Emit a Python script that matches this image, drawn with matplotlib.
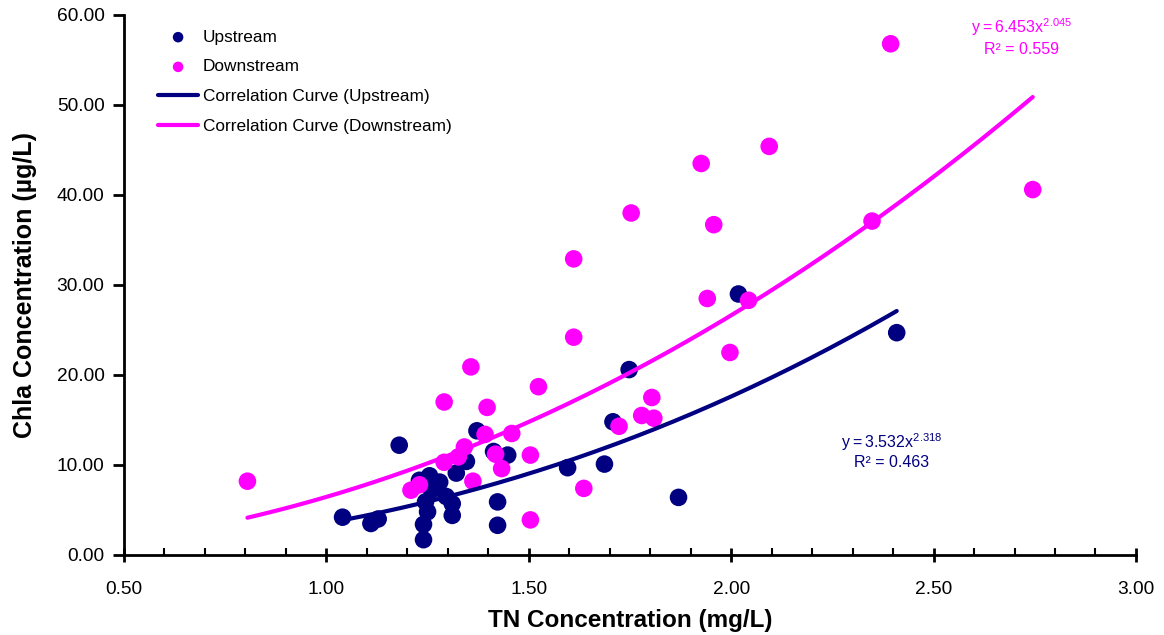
import matplotlib

matplotlib.use("Agg")

import matplotlib.pyplot as plt
import numpy as np
from matplotlib.ticker import FormatStrFormatter, MultipleLocator

plt.rcParams["font.family"] = ["Liberation Sans", "DejaVu Sans"]
plt.rcParams["mathtext.fontset"] = "custom"
plt.rcParams["mathtext.rm"] = "Liberation Sans"

NAVY = "#000080"
PINK = "#ff00ff"

# TN (mg/L) vs Chla (ug/L)
up_tn = [1.04, 1.11, 1.128, 1.18, 1.24, 1.24, 1.25, 1.245, 1.23, 1.255, 1.28,
         1.26, 1.296, 1.311, 1.311, 1.321, 1.346, 1.372, 1.413, 1.448, 1.423,
         1.423, 1.596, 1.687, 1.708, 1.748, 1.870, 2.018, 2.409]
up_chla = [4.2, 3.5, 4.0, 12.2, 1.7, 3.4, 4.8, 5.9, 8.3, 8.8, 8.1,
           7.2, 6.5, 5.7, 4.4, 9.1, 10.4, 13.8, 11.5, 11.1, 5.9, 3.3,
           9.7, 10.1, 14.8, 20.6, 6.4, 29.0, 24.7]

down_tn = [0.805, 1.209, 1.230, 1.291, 1.291, 1.326, 1.341, 1.357, 1.362,
           1.392, 1.397, 1.418, 1.433, 1.458, 1.504, 1.504, 1.524, 1.611,
           1.611, 1.636, 1.723, 1.753, 1.779, 1.804, 1.809, 1.926, 1.941,
           1.957, 1.997, 2.043, 2.094, 2.348, 2.394, 2.745]
down_chla = [8.2, 7.2, 7.8, 17.0, 10.3, 10.9, 12.0, 20.9, 8.2, 13.4,
             16.4, 11.2, 9.6, 13.5, 11.1, 3.9, 18.7, 32.9, 24.2, 7.4,
             14.3, 38.0, 15.5, 17.5, 15.2, 43.5, 28.5, 36.7, 22.5, 28.3,
             45.4, 37.1, 56.8, 40.6]

# power trendlines as printed on the chart
up_a, up_b, up_r2 = 3.532, 2.318, 0.463
down_a, down_b, down_r2 = 6.453, 2.045, 0.559


def main():
    fig = plt.figure(figsize=(11.64, 6.35), dpi=100)
    ax = fig.add_axes([0.1065, 0.126, 0.8694, 0.8504])

    ax.scatter(up_tn, up_chla, s=160, color=NAVY, edgecolors="none",
               zorder=2, label="Upstream")
    ax.scatter(down_tn, down_chla, s=160, color=PINK, edgecolors="none",
               zorder=3, label="Downstream")

    xu = np.linspace(min(up_tn), max(up_tn), 200)
    xd = np.linspace(min(down_tn), max(down_tn), 200)
    ax.plot(xu, up_a * xu ** up_b, color=NAVY, lw=3, zorder=4,
            solid_capstyle="round", label="Correlation Curve (Upstream)")
    ax.plot(xd, down_a * xd ** down_b, color=PINK, lw=3, zorder=4,
            solid_capstyle="round", label="Correlation Curve (Downstream)")

    # trendline equations, same placement as the Excel labels
    ax.text(2.718, 58.6, f"$\\mathregular{{y = {down_a}x^{{{down_b}}}}}$",
            color=PINK, fontsize=11.5, ha="center", va="center")
    ax.text(2.718, 56.2, f"R² = {down_r2}", color=PINK, fontsize=11.5,
            ha="center", va="center")
    ax.text(2.396, 12.5, f"$\\mathregular{{y = {up_a}x^{{{up_b}}}}}$",
            color=NAVY, fontsize=11.5, ha="center", va="center")
    ax.text(2.396, 10.3, f"R² = {up_r2}", color=NAVY, fontsize=11.5,
            ha="center", va="center")

    ax.set_xlim(0.5, 3.0)
    ax.set_ylim(0, 60)
    ax.xaxis.set_major_locator(MultipleLocator(0.5))
    ax.xaxis.set_minor_locator(MultipleLocator(0.1))
    ax.yaxis.set_major_locator(MultipleLocator(10))
    ax.xaxis.set_major_formatter(FormatStrFormatter("%.2f"))
    ax.yaxis.set_major_formatter(FormatStrFormatter("%.2f"))
    ax.tick_params(axis="x", which="major", direction="inout", length=10,
                   width=2, labelsize=13.8, pad=14)
    ax.tick_params(axis="x", which="minor", direction="in", length=5, width=1.5)
    ax.tick_params(axis="y", which="major", direction="out", length=8,
                   width=2, labelsize=13.8, pad=6)

    for side in ("top", "right"):
        ax.spines[side].set_visible(False)
    for side in ("left", "bottom"):
        ax.spines[side].set_linewidth(2)

    ax.set_xlabel("TN Concentration (mg/L)", fontsize=17.5, fontweight="bold",
                  labelpad=8)
    ax.set_ylabel("Chla Concentration (µg/L)", fontsize=18, fontweight="bold",
                  labelpad=14)

    ax.legend(loc="upper left", bbox_to_anchor=(0.0237, 0.992), frameon=False,
              fontsize=12.4, handlelength=2.3, handletextpad=0.3,
              labelspacing=0.85, borderaxespad=0.2, markerscale=0.6)

    fig.savefig("out.png", dpi=100)
    plt.close(fig)


if __name__ == "__main__":
    main()
